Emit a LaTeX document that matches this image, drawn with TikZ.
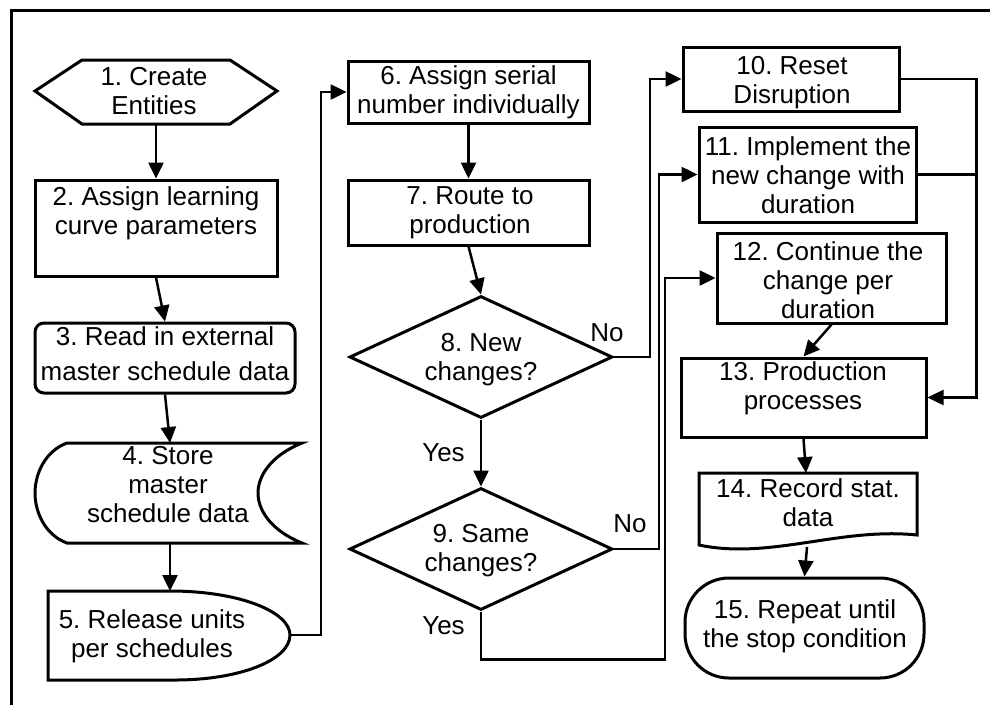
\documentclass[tikz,border=0pt]{standalone}
\usepackage{fontspec}
\setmainfont{Liberation Sans}
\usetikzlibrary{arrows.meta,shapes.geometric}

\tikzset{
  outline/.style={line width=3pt, line join=miter},
  box/.style={draw, outline, rectangle, inner sep=0pt},
  decision/.style={draw, outline, diamond, inner sep=0pt, aspect=2.15,
    minimum width=263pt, minimum height=122pt},
  txt/.style={align=center, inner sep=0pt,
    font=\fontsize{26}{29}\selectfont,
    execute at begin node=\strut, execute at end node=\strut},
  flow/.style={line width=2.5pt, -{Triangle[length=16pt,width=15pt]}},
  link/.style={line width=2.5pt},
}

\begin{document}
\frenchspacing
\begin{tikzpicture}[x=1pt,y=-1pt]
  \useasboundingbox (0,0) rectangle (990,705);
  \fill[white] (0,0) rectangle (990,705);

  % frame
  \draw[line width=3pt] (11,705) -- (11,10) -- (990,10);

  % ---- left column ----
  % 1: preparation (hexagon)
  \draw[outline] (35,91) -- (82,60) -- (230,60) -- (277,91) -- (230,124) -- (82,124) -- cycle;
  \coordinate (s1s) at (156,124);
  \node[txt] (t1) at (154,95) {1. Create\\Entities};

  % 2: process
  \node[box, minimum width=242pt, minimum height=96pt] (b2) at (156,228) {};
  \node[txt] (t2) at (156,215) {2. Assign learning\\curve parameters};

  % 3: rounded process
  \node[box, rounded corners=9pt, minimum width=260pt, minimum height=70pt] (b3) at (165,358) {};
  \node[txt, font=\fontsize{26}{35}\selectfont] (t3) at (165,358.5) {3. Read in external\\master schedule data};

  % 4: stored data
  \draw[outline] (67,443) -- (302,443)
    .. controls (272,455) and (258,475) .. (258,493)
    .. controls (258,511) and (272,531) .. (302,543)
    -- (67,543)
    .. controls (45,535) and (35,512) .. (35,493)
    .. controls (35,474) and (45,451) .. cycle;
  \coordinate (s4n) at (170,443);
  \coordinate (s4s) at (170,543);
  \node[txt] (t4) at (168,489) {4. Store\\master\\schedule data};

  % 5: delay
  \draw[outline] (48,591) -- (170,591)
    .. controls (240,591) and (290,612) .. (290,635)
    .. controls (290,660) and (240,680) .. (175,680)
    -- (48,680) -- cycle;
  \coordinate (s5n) at (170,591);
  \coordinate (s5e) at (290,635);
  \node[txt] (t5) at (152,638) {5. Release units\\per schedules};

  % ---- middle column ----
  \node[box, minimum width=241pt, minimum height=62pt] (b6) at (468.5,92) {};
  \node[txt] (t6) at (468.5,94) {6. Assign serial\\number individually};

  \node[box, minimum width=241pt, minimum height=65pt] (b7) at (468.5,212.5) {};
  \node[txt] (t7) at (470,214) {7. Route to\\production};

  \node[decision] (d8) at (481,357) {};
  \node[txt] (t8) at (481,361) {8. New\\changes?};

  \node[decision] (d9) at (481,549) {};
  \node[txt] (t9) at (481,552) {9. Same\\changes?};

  \node[txt] (no8) at (607,336) {No};
  \node[txt] (yes8) at (443.5,456) {Yes};
  \node[txt] (no9) at (630,527) {No};
  \node[txt] (yes9) at (443.5,629) {Yes};

  % ---- right column ----
  \node[box, minimum width=216pt, minimum height=64pt] (b10) at (791,79) {};
  \node[txt] (t10) at (792,84) {10. Reset\\Disruption};

  \node[box, minimum width=217pt, minimum height=95pt] (b11) at (807.5,174.5) {};
  \node[txt] (t11) at (808,179) {11. Implement the\\new change with\\duration};

  \node[box, minimum width=229pt, minimum height=90pt] (b12) at (831.5,278) {};
  \node[txt] (t12) at (828,284) {12. Continue the\\change per\\duration};

  \node[box, minimum width=245pt, minimum height=79pt] (b13) at (803.5,397.5) {};
  \node[txt] (t13) at (803,390) {13. Production\\processes};

  % 14: document
  \draw[outline] (699,473) -- (917,473) -- (917,535)
    .. controls (840,527) and (770,560) .. (699,545) -- cycle;
  \coordinate (s14n) at (806,473);
  \coordinate (s14s) at (807,547);
  \node[txt] (t14) at (808,507) {14. Record stat.\\data};

  % 15: terminator
  \node[box, rounded corners=44pt, minimum width=239pt, minimum height=100pt] (n15) at (804.5,628) {};
  \node[txt] (t15) at (805,628) {15. Repeat until\\the stop condition};

  % ---- connectors ----
  \draw[flow] (s1s) -- (b2.north);
  \draw[flow] (b2.south) -- (b3.north);
  \draw[flow] (b3.south) -- (s4n);
  \draw[flow] (s4s) -- (s5n);
  \draw[flow] (s5e) -- ++(31,0) |- (b6.west);
  \draw[flow] (b6.south) -- (b7.north);
  \draw[flow] (b7.south) -- (d8.north);
  \draw[flow] (d8.east) -- ++(36,0) |- (b10.west);
  \draw[flow] (d8.south) -- (d9.north);
  \draw[flow] (d9.east) -- ++(45,0) |- (b11.west);
  \draw[flow] (d9.south) -- ++(0,48) -- ++(184,0) |- (b12.west);
  \draw[flow] (b10.east) -- ++(76,0) |- (b13.east);
  \draw[link] (b11.east) -- ++(59,0);
  \draw[flow] (b12.south) -- (b13.north);
  \draw[flow] (b13.south) -- (s14n);
  \draw[flow] (s14s) -- (n15.north);
\end{tikzpicture}
\end{document}
